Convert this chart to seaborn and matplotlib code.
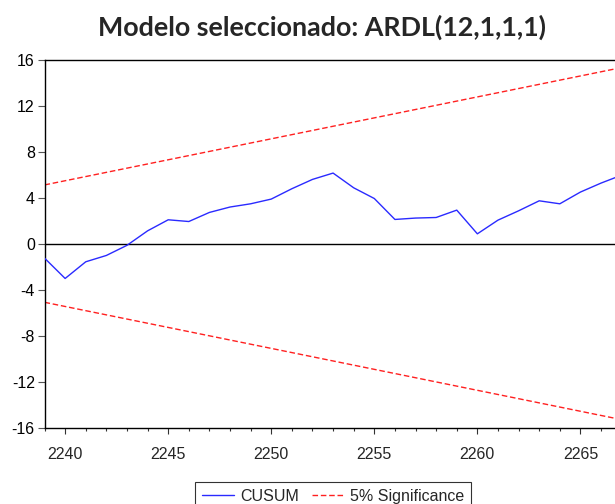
import matplotlib
matplotlib.use("Agg")
import matplotlib.pyplot as plt
from matplotlib.ticker import MultipleLocator
import numpy as np
import pandas as pd
import seaborn as sns

# CUSUM statistic by observation
years = list(range(2239, 2268))
cusum = [-1.26, -3.03, -1.58, -1.03, -0.15, 1.11, 2.07, 1.92, 2.71, 3.18,
         3.46, 3.87, 4.77, 5.58, 6.13, 4.85, 3.92, 2.10, 2.22, 2.27,
         2.91, 0.85, 2.04, 2.85, 3.72, 3.46, 4.48, 5.26, 5.95]

# 5% significance bounds (straight lines between first and last observation)
bound_years = [2239, 2267]
upper_bound = [5.1, 15.3]
lower_bound = [-5.1, -15.3]

y_ticks = list(range(-16, 17, 4))
x_ticks = [2240, 2245, 2250, 2255, 2260, 2265]

title = "Modelo seleccionado: ARDL(12,1,1,1)"

sns.set_theme(style="white")
plt.rcParams["font.family"] = ["Liberation Sans", "DejaVu Sans"]
plt.rcParams["axes.unicode_minus"] = False

fig = plt.figure(figsize=(6.15, 5.04), dpi=100)
ax = fig.add_axes([0.0724, 0.1514, 0.9384, 0.7305])

df_cusum = pd.DataFrame({"year": years, "value": cusum})
df_up = pd.DataFrame({"year": bound_years, "value": upper_bound})
df_lo = pd.DataFrame({"year": bound_years, "value": lower_bound})

ax.axhline(0, color="black", lw=1.0, zorder=1)
sns.lineplot(data=df_cusum, x="year", y="value", ax=ax, color="#2a2aff",
             lw=1.0, label="CUSUM", legend=False, zorder=3)
sns.lineplot(data=df_up, x="year", y="value", ax=ax, color="#ff2020",
             lw=1.0, label="5% Significance", legend=False, zorder=2)
sns.lineplot(data=df_lo, x="year", y="value", ax=ax, color="#ff2020",
             lw=1.0, legend=False, zorder=2)
for ln in ax.lines[-2:]:
    ln.set_linestyle((0, (4, 2)))

ax.set_xlim(2239, 2267)
ax.set_ylim(-16, 16)
ax.set_xlabel("")
ax.set_ylabel("")
ax.set_yticks(y_ticks)
ax.set_xticks(x_ticks)
ax.xaxis.set_minor_locator(MultipleLocator(1))

for side in ["left", "bottom", "top"]:
    ax.spines[side].set_visible(True)
    ax.spines[side].set_color("black")
    ax.spines[side].set_linewidth(1.0)
ax.spines["right"].set_visible(False)

ax.tick_params(axis="y", which="major", direction="out", length=5,
               width=0.8, color="#555555", labelsize=11.5, pad=2,
               left=True, labelcolor="black")
ax.tick_params(axis="x", which="major", direction="out", length=4,
               width=0.8, color="#333333", labelsize=11.5, pad=10,
               bottom=True)
ax.tick_params(axis="x", which="minor", direction="out", length=2.5,
               width=0.8, color="#333333", bottom=True)

fig.text(322 / 615, 1 - 27 / 504, title, ha="center", va="center",
         fontsize=19.4, fontweight="bold", family=["Lato", "DejaVu Sans"])

handles = [ax.lines[1], ax.lines[2]]
leg = fig.legend(handles, ["CUSUM", "5% Significance"],
                 loc="upper center", bbox_to_anchor=(333 / 615, 1 - 482.3 / 504),
                 ncol=2, fontsize=11.5, frameon=True, fancybox=False,
                 shadow=False, handlelength=2.0, handletextpad=0.4,
                 columnspacing=0.8, borderpad=0.4, borderaxespad=0)
leg.get_frame().set_edgecolor("black")
leg.get_frame().set_linewidth(0.8)

fig.savefig("out.png", dpi=100)
